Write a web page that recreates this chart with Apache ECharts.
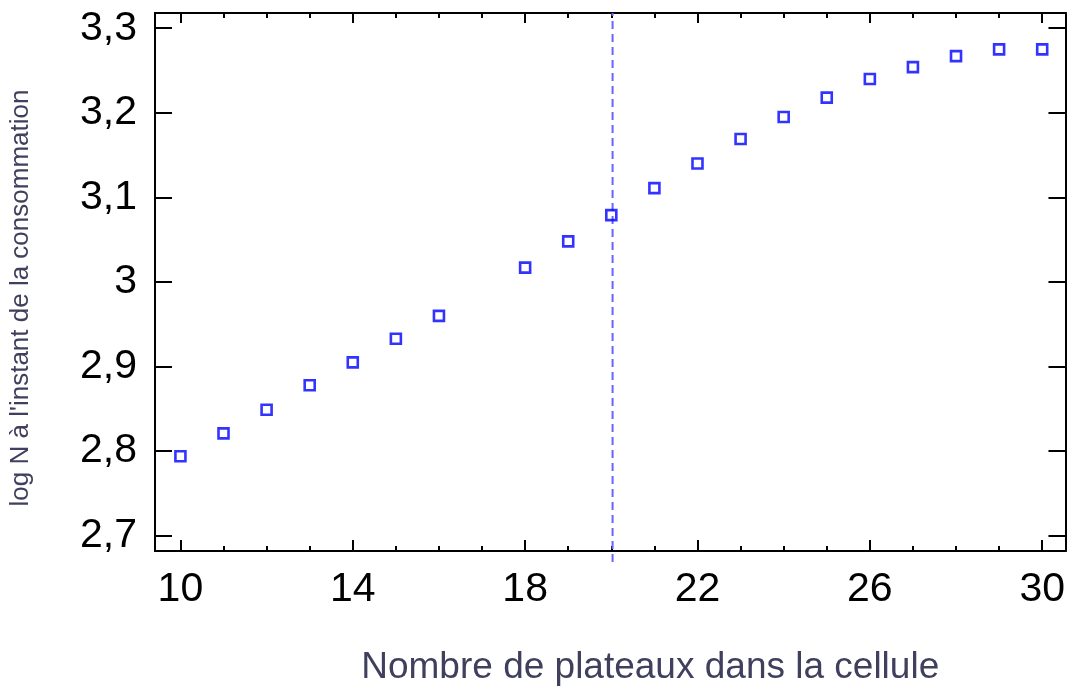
<!DOCTYPE html>
<html>
<head>
<meta charset="utf-8">
<script src="https://cdn.jsdelivr.net/npm/echarts@6/dist/echarts.min.js"></script>
<style>
html,body{margin:0;padding:0;background:#fff;}
#chart{width:1068px;height:691px;}
</style>
</head>
<body>
<div id="chart"></div>
<script>
// Data
const plates = [10, 11, 12, 13, 14, 15, 16, 18, 19, 20, 21, 22, 23, 24, 25, 26, 27, 28, 29, 30];
const logN = [2.794, 2.821, 2.849, 2.878, 2.905, 2.933, 2.960, 3.017, 3.048, 3.079, 3.111, 3.140, 3.169, 3.195, 3.218, 3.240, 3.254, 3.267, 3.275, 3.275];
const xMajorTicks = [10, 14, 18, 22, 26, 30];
const xMinorTicks = [10, 11, 12, 13, 14, 15, 16, 17, 18, 19, 20, 21, 22, 23, 24, 25, 26, 27, 28, 29, 30];
const yTicks = [2.7, 2.8, 2.9, 3.0, 3.1, 3.2, 3.3];
const refLineX = 20;
const xTitle = 'Nombre de plateaux dans la cellule';
const yTitle = "log N à l'instant de la consommation";

const X_MIN = 9.41, X_MAX = 30.54, Y_MIN = 2.682, Y_MAX = 3.318;
const FONT = 'Liberation Sans, Arial, sans-serif';
const axisLineStyle = { color: '#000', width: 2 };
const titleColor = '#40405e';

const chart = echarts.init(document.getElementById('chart'), null, { renderer: 'canvas' });

function xAxisDef(pos, ticks, len, labels) {
  return {
    type: 'value', gridIndex: 0, position: pos, min: X_MIN, max: X_MAX,
    axisLine: { show: true, onZero: false, lineStyle: axisLineStyle },
    axisTick: { show: true, inside: true, length: len, customValues: ticks, lineStyle: { color: '#000', width: 2 } },
    axisLabel: labels ? { show: true, customValues: ticks, margin: 18, fontSize: 41, color: '#000', fontFamily: FONT } : { show: false },
    splitLine: { show: false }
  };
}

const xAxes = [
  xAxisDef('bottom', xMinorTicks, 5, false),
  xAxisDef('bottom', xMajorTicks, 11, true),
  xAxisDef('top', xMinorTicks, 5, false),
  xAxisDef('top', xMajorTicks, 10, false),
  { type: 'value', gridIndex: 1, min: X_MIN, max: X_MAX, show: false }
];
xAxes[1].name = xTitle;
xAxes[1].nameLocation = 'middle';
xAxes[1].nameGap = 98;
xAxes[1].nameTextStyle = { fontSize: 37, color: titleColor, fontFamily: FONT, padding: [0, 0, 0, 80] };

const option = {
  backgroundColor: '#fff',
  animation: false,
  grid: [
    { left: 155, right: 0, top: 13, bottom: 140, containLabel: false },
    { left: 155, right: 0, top: 13, bottom: 129, containLabel: false }
  ],
  xAxis: xAxes,
  yAxis: [
    {
      type: 'value', gridIndex: 0, position: 'left', min: Y_MIN, max: Y_MAX,
      axisLine: { show: true, onZero: false, lineStyle: axisLineStyle },
      axisTick: { show: true, inside: true, length: 17, customValues: yTicks, lineStyle: { color: '#000', width: 2 } },
      axisLabel: {
        show: true, customValues: yTicks, margin: 18, fontSize: 41, color: '#000', fontFamily: FONT,
        formatter: v => String(+(+v).toFixed(1)).replace('.', ',')
      },
      splitLine: { show: false },
      name: yTitle, nameLocation: 'middle', nameRotate: 90, nameGap: 121,
      nameTextStyle: { fontSize: 26, color: titleColor, fontFamily: FONT, padding: [0, 32, 0, 0] }
    },
    {
      type: 'value', gridIndex: 0, position: 'right', min: Y_MIN, max: Y_MAX,
      axisLine: { show: true, onZero: false, lineStyle: axisLineStyle },
      axisTick: { show: true, inside: true, length: 17, customValues: yTicks, lineStyle: { color: '#000', width: 2 } },
      axisLabel: { show: false },
      splitLine: { show: false }
    },
    { type: 'value', gridIndex: 1, min: 0, max: 1, show: false }
  ],
  series: [
    {
      type: 'line', xAxisIndex: 4, yAxisIndex: 2, z: 1, clip: false,
      data: [[refLineX, 0], [refLineX, 1]],
      symbol: 'none', silent: true,
      lineStyle: { color: '#6666ff', width: 2, type: [8, 5] }
    },
    {
      type: 'scatter', xAxisIndex: 0, yAxisIndex: 0, z: 3,
      data: plates.map((p, i) => [p, logN[i]]),
      symbol: 'rect', symbolSize: 10,
      itemStyle: { color: 'rgba(255,255,255,0)', borderColor: '#0000ff', borderWidth: 2.6 }
    }
  ]
};
chart.setOption(option);
</script>
</body>
</html>
